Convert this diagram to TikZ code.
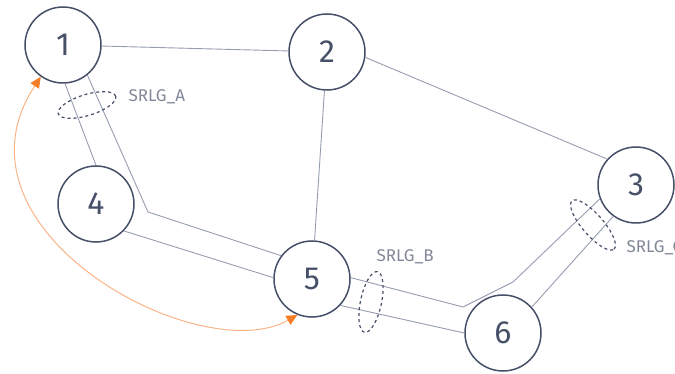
\documentclass[tikz,border=0pt]{standalone}
\usepackage{fontspec}
\setmainfont{Fira Sans}
\usetikzlibrary{positioning,arrows.meta,shapes.geometric}
\usepackage{xcolor}
\definecolor{ringline}{RGB}{70,80,105}
\definecolor{linkgray}{RGB}{150,157,177}
\definecolor{taggray}{RGB}{130,136,152}
\definecolor{pathlight}{RGB}{250,180,135}
\definecolor{pathdark}{RGB}{245,125,40}

\begin{document}
\begin{tikzpicture}[x=1pt,y=-1pt,
  router/.style={circle,draw=ringline,line width=1.5pt,minimum size=76pt,inner sep=0pt,text=ringline,font=\fontsize{32}{36}\selectfont},
  link/.style={draw=linkgray,line width=0.9pt},
  srlg/.style={ellipse,draw=ringline,dashed,line width=1.2pt,inner sep=0pt,minimum height=21pt},
  tag/.style={anchor=west,text=taggray,font=\fontsize{17}{20}\selectfont},
  backup/.style={draw=pathlight,line width=1pt,{Triangle[length=11pt,width=10pt,color=pathdark]}-{Triangle[length=11pt,width=10pt,color=pathdark]}}]
\useasboundingbox (0,0) rectangle (675,374);
\node[router] (n1) at (63,45) {1};
\node[router] (n2) at (327,52) {2};
\node[router] (n3) at (636,185) {3};
\node[router] (n4) at (96,204) {4};
\node[router] (n5) at (312,279) {5};
\node[router] (n6) at (503,333) {6};
% bends of the parallel links
\coordinate (b15) at (148,212);
\coordinate (b53a) at (463,307);
\coordinate (b53b) at (513,282);
\draw[link] (n1) -- (n2);
\draw[link] (n2) -- (n5);
\draw[link] (n2.-8) -- (n3.138);
\draw[link] (n1.-87) -- (n4.90);
\draw[link] (n1.-51) -- (b15) -- (n5.143);
\draw[link] (n4.-44) -- (n5.178);
\draw[link] (n5.2) -- (b53a) -- (b53b) -- (n3.-159);
\draw[link] (n5.-43) -- (n6.180);
\draw[link] (n6.42) -- (n3.-126);
% shared risk groups
\node[srlg,minimum width=60pt,rotate=17] (ga) at (87,105) {};
\node[srlg,minimum width=62pt,rotate=78] (gb) at (371,302) {};
\node[srlg,minimum width=64pt,rotate=-49] (gc) at (593,225) {};
\node[tag] (la) at (125,97) {SRLG\_A};
\node[tag] (lb) at (373,257) {SRLG\_B};
\node[tag] (lc) at (623,248) {SRLG\_C};
\draw[backup] (n5.-112) .. controls (200,370) and (-60,230) .. (n1.-125);
\end{tikzpicture}
\end{document}
